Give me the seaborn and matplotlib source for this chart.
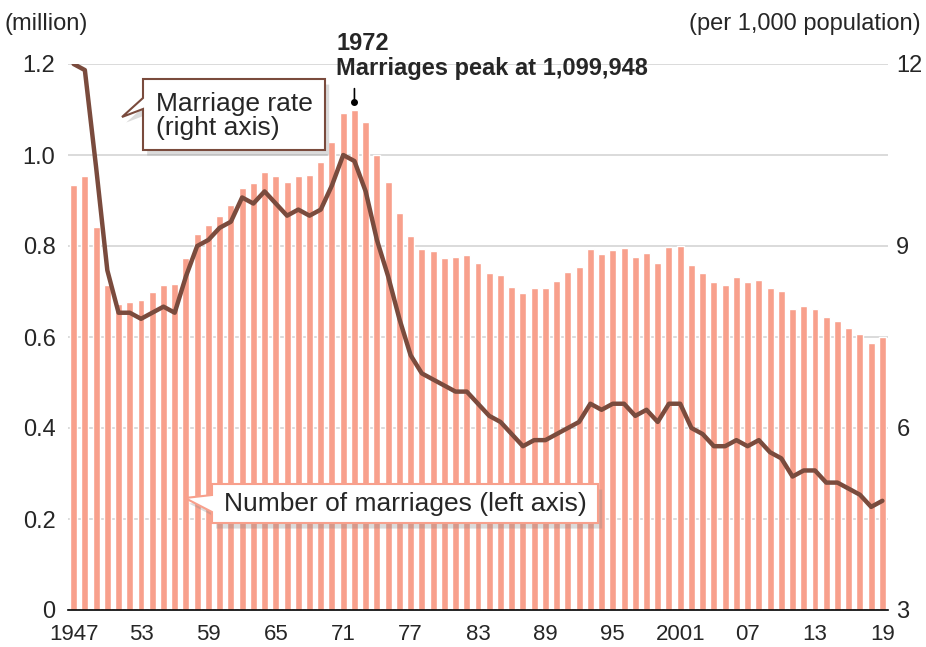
import matplotlib
matplotlib.use("Agg")
import matplotlib.pyplot as plt
import matplotlib.patheffects as pe
from matplotlib.patches import Polygon
from matplotlib import transforms
import numpy as np
import pandas as pd
import seaborn as sns

years = list(range(1947, 2020))
marriages = [934170, 953999, 842170, 715081, 671905, 676995, 682077, 697809, 714861, 715934,
             773362, 826902, 847135, 866115, 890158, 928341, 937516, 963130, 954852, 940120,
             953096, 956312, 984142, 1029405, 1091229, 1099984, 1071923, 1000455, 941628, 871543,
             821029, 793257, 788505, 774702, 776531, 781252, 762552, 739991, 735850, 710962,
             696173, 707716, 708316, 722138, 742264, 754441, 792658, 782738, 791888, 795080,
             775651, 784595, 762028, 798138, 799999, 757331, 740191, 720417, 714265, 730971,
             719822, 726106, 707734, 700214, 661895, 668869, 660613, 643749, 635156, 620531,
             606866, 586481, 599007]
rate = [12.0, 11.9, 10.3, 8.6, 7.9, 7.9, 7.8, 7.9, 8.0, 7.9,
        8.5, 9.0, 9.1, 9.3, 9.4, 9.8, 9.7, 9.9, 9.7, 9.5,
        9.6, 9.5, 9.6, 10.0, 10.5, 10.4, 9.9, 9.1, 8.5, 7.8,
        7.2, 6.9, 6.8, 6.7, 6.6, 6.6, 6.4, 6.2, 6.1, 5.9,
        5.7, 5.8, 5.8, 5.9, 6.0, 6.1, 6.4, 6.3, 6.4, 6.4,
        6.2, 6.3, 6.1, 6.4, 6.4, 6.0, 5.9, 5.7, 5.7, 5.8,
        5.7, 5.8, 5.6, 5.5, 5.2, 5.3, 5.3, 5.1, 5.1, 5.0,
        4.9, 4.7, 4.8]
tick_years = [1947, 1953, 1959, 1965, 1971, 1977, 1983, 1989, 1995, 2001, 2007, 2013, 2019]
tick_labels = ["1947", "53", "59", "65", "71", "77", "83", "89", "95", "2001", "07", "13", "19"]
left_ticks = [0, 0.2, 0.4, 0.6, 0.8, 1.0, 1.2]
right_ticks = [3, 6, 9, 12]
peak_year = 1972
peak_text = "1972\nMarriages peak at 1,099,948"

BAR = "#f8a08c"
LINE = "#7a4b3d"

sns.set_theme(style="white")
plt.rcParams["font.family"] = ["Liberation Sans", "DejaVu Sans"]

df = pd.DataFrame({"year": years, "millions": np.array(marriages) / 1e6, "rate": rate})
df["pos"] = df["year"] - years[0]

W, H = 926, 647
fig = plt.figure(figsize=(W / 100, H / 100), dpi=100)
ax = fig.add_axes([68 / W, (H - 610) / H, (888 - 68) / W, (610 - 64) / H])

sns.barplot(data=df, x="pos", y="millions", color=BAR, width=0.62, saturation=1,
            ax=ax, order=list(df["pos"]), zorder=2)
ax.set_xlim(-0.5, len(years) - 0.5)
ax.set_ylim(0, 1.2)
ax.set_yticks(left_ticks)
ax.set_yticklabels([f"{t:.1f}" if t > 0 else "0" for t in left_ticks], fontsize=17)
ax.yaxis.grid(True, color="#d4d4d4", linewidth=1.2, zorder=0)
ax.set_axisbelow(True)
ax.set_xticks([y - years[0] for y in tick_years])
ax.set_xticklabels(tick_labels, fontsize=16)
ax.set_xlabel("")
ax.set_ylabel("")
for s in ["top", "right", "left"]:
    ax.spines[s].set_visible(False)
ax.spines["bottom"].set_color("black")
ax.spines["bottom"].set_linewidth(1.2)
ax.spines["bottom"].set_zorder(5)
ax.tick_params(axis="x", length=0, pad=10)
ax.tick_params(axis="y", length=0, pad=9)

ax2 = ax.twinx()
sns.lineplot(data=df, x="pos", y="rate", color=LINE, linewidth=3.2, ax=ax2, zorder=4)
ax2.set_ylim(3, 12)
ax2.set_yticks(right_ticks)
ax2.set_yticklabels([str(t) for t in right_ticks], fontsize=17)
ax2.set_xlim(-0.5, len(years) - 0.5)
ax2.set_ylabel("")
ax2.set_xlabel("")
for s in ["top", "right", "left", "bottom"]:
    ax2.spines[s].set_visible(False)
ax2.tick_params(axis="y", length=0, pad=6)
ax2.grid(False)

fig.text(4 / W, 1 - 24 / H, "(million)", fontsize=17, va="center", ha="left")
fig.text(921 / W, 1 - 24 / H, "(per 1,000 population)", fontsize=17, va="center", ha="right")

# peak annotation
pk = peak_year - years[0]
pk_val = df.loc[df["year"] == peak_year, "millions"].iloc[0]
ax.annotate("", xy=(pk, pk_val + 0.016), xytext=(pk, pk_val + 0.052),
            arrowprops=dict(arrowstyle="-", color="black", lw=1.2), annotation_clip=False)
ax.plot([pk], [pk_val + 0.016], marker="o", color="black", markersize=4, clip_on=False, zorder=6)
fig.text(336 / W, 1 - 56 / H, peak_text, fontsize=17, fontweight="bold", va="center", ha="left",
         linespacing=1.15)

# callout boxes in pixel coords (y from top)
pix = transforms.Affine2D().scale(1 / W, -1 / H).translate(0, 1) + fig.transFigure


def callout(x0, y0, x1, y1, ta, tb, tip, edge):
    pts = [(x0, y0), (x1, y0), (x1, y1), (x0, y1), (x0, tb), tip, (x0, ta)]
    poly = Polygon(pts, closed=True, transform=pix, facecolor="white", edgecolor=edge,
                   linewidth=1.5, zorder=10)
    poly.set_path_effects([pe.SimplePatchShadow(offset=(3, -4), shadow_rgbFace="#888888", alpha=0.3),
                           pe.Normal()])
    fig.add_artist(poly)


callout(143, 79, 325, 150, 98, 109, (122, 117), LINE)
fig.text(156 / W, 1 - 116 / H, "Marriage rate\n(right axis)", fontsize=19, va="center", ha="left",
         zorder=11, linespacing=1.05)
callout(212, 484, 598, 523, 495, 512, (185, 498), BAR)
fig.text(224 / W, 1 - 504 / H, "Number of marriages (left axis)", fontsize=19, va="center",
         ha="left", zorder=11)

fig.savefig("out.png", dpi=100)
